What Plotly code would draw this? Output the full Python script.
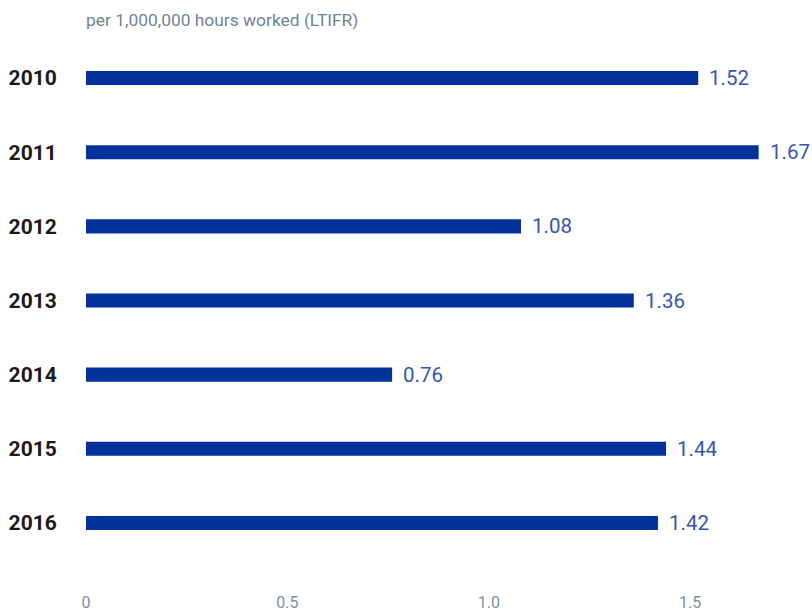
import plotly.graph_objects as go

# Lost-time injury frequency rate by year
years = ["2010", "2011", "2012", "2013", "2014", "2015", "2016"]
ltifr = [1.52, 1.67, 1.08, 1.36, 0.76, 1.44, 1.42]
x_ticks = [0, 0.5, 1.0, 1.5]
x_tick_text = ["0", "0.5", "1.0", "1.5"]

bar_color = "#00329a"
label_color = "#3456b4"
axis_text_color = "#7d90a0"

fig = go.Figure(
    go.Bar(
        x=ltifr,
        y=years,
        orientation="h",
        width=0.19,
        marker=dict(color=bar_color, line=dict(width=0)),
        hoverinfo="skip",
    )
)

# value labels right of each bar (y given as category index)
for i, v in enumerate(ltifr):
    fig.add_annotation(
        x=v, y=i, text=f"{v:.2f}", showarrow=False,
        xanchor="left", yanchor="middle", xshift=9,
        font=dict(family="Roboto", size=20.5, color=label_color),
    )

fig.add_annotation(
    x=0, y=1, xref="paper", yref="paper", yshift=21,
    text="per 1,000,000 hours worked (LTIFR)", showarrow=False,
    xanchor="left", yanchor="middle", xshift=-2,
    font=dict(family="Roboto", size=17.4, color="#6f8497"),
)

fig.update_layout(
    width=812, height=613,
    margin=dict(l=86, r=1, t=41, b=51),
    plot_bgcolor="white", paper_bgcolor="white",
    showlegend=False,
    xaxis=dict(
        range=[0, 1.8], tickvals=x_ticks, ticktext=x_tick_text,
        showgrid=False, zeroline=False, showline=False,
        ticks="outside", ticklen=28, tickcolor="rgba(0,0,0,0)",
        tickfont=dict(family="Roboto", size=16, color=axis_text_color),
    ),
    yaxis=dict(
        type="category",
        categoryorder="array", categoryarray=years,
        range=[len(years) - 0.5, -0.5], autorange=False,
        showgrid=False, zeroline=False, showline=False,
        ticks="outside", ticklen=24, tickcolor="rgba(0,0,0,0)",
        tickfont=dict(family="Roboto", size=21, color="#1a1a1a", weight="bold"),
    ),
)

fig.write_html("out.html")
